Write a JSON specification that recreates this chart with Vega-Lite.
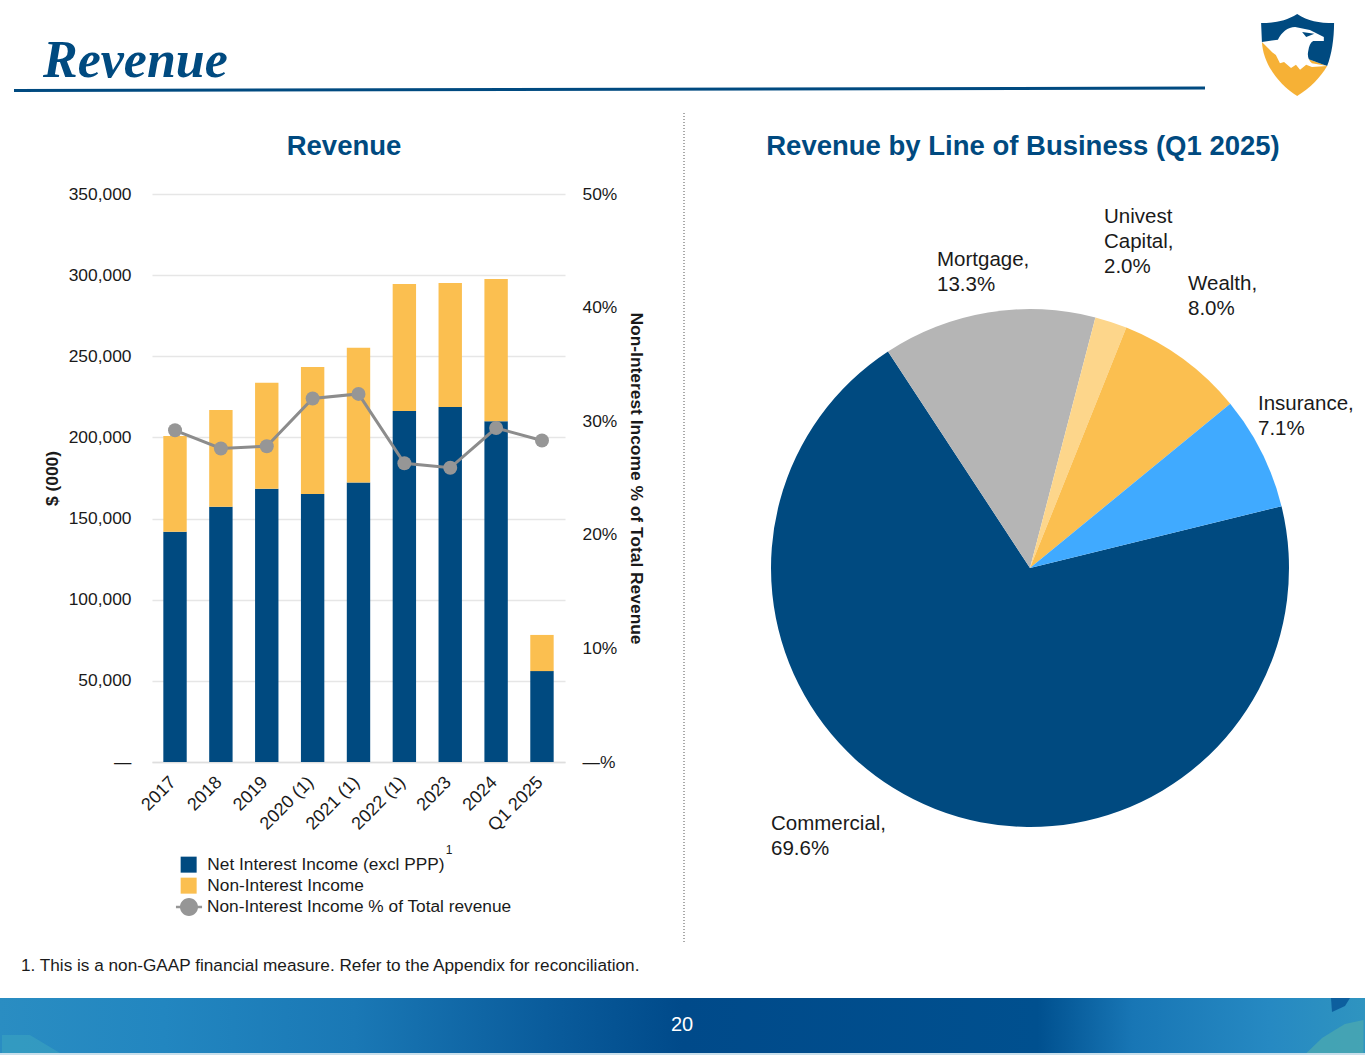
{
"$schema":"https://vega.github.io/schema/vega-lite/v6.json",
"padding":0,
"background":"white",
"spacing":0,
"config":{"view":{"stroke":null},"font":"Liberation Sans","concat":{"spacing":0}},
"resolve":{"scale":{"color":"independent","stroke":"independent"}},
"datasets":{
"bars":[
{"period":"2017","series":"Net Interest Income (excl PPP)","rank":1,"value":141900},{"period":"2018","series":"Net Interest Income (excl PPP)","rank":1,"value":157300},{"period":"2019","series":"Net Interest Income (excl PPP)","rank":1,"value":168400},{"period":"2020 (1)","series":"Net Interest Income (excl PPP)","rank":1,"value":165100},{"period":"2021 (1)","series":"Net Interest Income (excl PPP)","rank":1,"value":172300},{"period":"2022 (1)","series":"Net Interest Income (excl PPP)","rank":1,"value":216300},{"period":"2023","series":"Net Interest Income (excl PPP)","rank":1,"value":218700},{"period":"2024","series":"Net Interest Income (excl PPP)","rank":1,"value":209900},{"period":"Q1 2025","series":"Net Interest Income (excl PPP)","rank":1,"value":56000},
{"period":"2017","series":"Non-Interest Income","rank":2,"value":59000},{"period":"2018","series":"Non-Interest Income","rank":2,"value":59600},{"period":"2019","series":"Non-Interest Income","rank":2,"value":65300},{"period":"2020 (1)","series":"Non-Interest Income","rank":2,"value":78300},{"period":"2021 (1)","series":"Non-Interest Income","rank":2,"value":83000},{"period":"2022 (1)","series":"Non-Interest Income","rank":2,"value":78200},{"period":"2023","series":"Non-Interest Income","rank":2,"value":76400},{"period":"2024","series":"Non-Interest Income","rank":2,"value":87700},{"period":"Q1 2025","series":"Non-Interest Income","rank":2,"value":22300}],
"pct":[
{"period":"2017","series":"Non-Interest Income % of Total revenue","pct":29.2},{"period":"2018","series":"Non-Interest Income % of Total revenue","pct":27.6},{"period":"2019","series":"Non-Interest Income % of Total revenue","pct":27.8},{"period":"2020 (1)","series":"Non-Interest Income % of Total revenue","pct":32.0},{"period":"2021 (1)","series":"Non-Interest Income % of Total revenue","pct":32.4},{"period":"2022 (1)","series":"Non-Interest Income % of Total revenue","pct":26.3},{"period":"2023","series":"Non-Interest Income % of Total revenue","pct":25.9},{"period":"2024","series":"Non-Interest Income % of Total revenue","pct":29.4},{"period":"Q1 2025","series":"Non-Interest Income % of Total revenue","pct":28.3}],
"pie":[
{"name":"Commercial","share":69.6,"ord":1,"label":"Commercial,\n69.6%"},
{"name":"Mortgage","share":13.3,"ord":2,"label":"Mortgage,\n13.3%"},
{"name":"Univest Capital","share":2.0,"ord":3,"label":"Univest\nCapital,\n2.0%"},
{"name":"Wealth","share":8.0,"ord":4,"label":"Wealth,\n8.0%"},
{"name":"Insurance","share":7.1,"ord":5,"label":"Insurance,\n7.1%"}]
},
"vconcat":[
{"width":1365,"height":112,
 "data":{"values":[{"main":"Revenue"}]},
 "layer":[
  {"mark":{"type":"text","align":"left","baseline":"alphabetic","font":"Liberation Serif","fontStyle":"italic","fontWeight":"bold","fontSize":52,"color":"#004a80"},
   "encoding":{"text":{"field":"main"},
    "x":{"datum":43,"type":"quantitative","scale":{"domain":[0,1365],"range":[0,1365],"nice":false,"zero":false},"axis":null},
    "y":{"datum":77,"type":"quantitative","scale":{"domain":[0,112],"range":[0,112],"nice":false,"zero":false},"axis":null}}},
  {"mark":{"type":"rule","color":"#004a80","strokeWidth":3},
   "encoding":{"x":{"datum":14,"type":"quantitative"},"x2":{"datum":1205},"y":{"datum":90.5,"type":"quantitative"},"y2":{"datum":88}}},
  {"mark":{"type":"point","filled":true,"opacity":1,"size":6724,"color":"#f6b136","shape":"M-.88,-.32 C-.85,.2 -.5,.7 -.02,1 C.3,.8 .55,.55 .71,.27 Z"},
   "encoding":{"x":{"datum":1298,"type":"quantitative"},"y":{"datum":55,"type":"quantitative"}}},
  {"mark":{"type":"point","filled":true,"opacity":1,"size":6724,"color":"#004a80","shape":"M-.02,-1 C-.3,-.82 -.6,-.78 -.9,-.78 L-.88,-.32 L.71,.27 C.82,0 .88,-.4 .88,-.78 C.5,-.78 .25,-.82 -.02,-1 Z"},
   "encoding":{"x":{"datum":1298,"type":"quantitative"},"y":{"datum":55,"type":"quantitative"}}},
  {"mark":{"type":"point","filled":true,"opacity":1,"size":6724,"color":"#ffffff","shape":"M-.88,-.32 L-.49,-.37 C-.4,-.55 -.25,-.68 -.07,-.68 L.29,-.61 L.63,-.44 L.63,-.34 L.37,-.34 C.3,-.3 .27,-.22 .25,-.1 C.22,.02 .26,.14 .34,.2 L.71,.27 L.34,.29 L.2,.24 L.05,.36 L-.05,.24 L-.17,.32 L-.34,.17 L-.44,.2 L-.54,0 L-.63,-.07 Z"},
   "encoding":{"x":{"datum":1298,"type":"quantitative"},"y":{"datum":55,"type":"quantitative"}}},
  {"mark":{"type":"point","filled":true,"opacity":1,"size":6724,"color":"#004a80","shape":"M.1,-.56 L.4,-.52 L.2,-.44 Z"},
   "encoding":{"x":{"datum":1298,"type":"quantitative"},"y":{"datum":55,"type":"quantitative"}}}
 ]},
{"spacing":0,"bounds":"flush",
 "resolve":{"scale":{"color":"independent","stroke":"independent"}},
 "hconcat":[
  {"width":152,"height":568,"data":{"values":[{"a":1}]},"mark":{"type":"rect","opacity":0},"encoding":{}},
  {"width":413,"height":568,
   "layer":[
    {"data":{"name":"bars"},"mark":{"type":"bar"},
     "encoding":{
      "x":{"field":"period","type":"nominal","sort":null,"title":null,"scale":{"paddingInner":0.49,"paddingOuter":0.247},
        "axis":{"labelAngle":-45,"labelAlign":"right","labelBaseline":"top","labelFontSize":18,"labelColor":"#1a1a1a","ticks":false,"domainColor":"#dedede","domainWidth":1.5,"labelPadding":11,"labelOffset":-8,"labelOverlap":false}},
      "y":{"field":"value","type":"quantitative","stack":"zero","title":"$ (000)","scale":{"domain":[0,350000],"nice":false},
        "axis":{"orient":"left","values":[0,50000,100000,150000,200000,250000,300000,350000],"labelExpr":"datum.value==0?'—':format(datum.value,',')","labelFontSize":17.4,"labelColor":"#1a1a1a","labelPadding":21,"ticks":false,"domain":false,"grid":true,"gridColor":"#e6e6e6","gridWidth":1.5,"titleFontSize":17.4,"titleFontWeight":"bold","titleColor":"#1a1a1a","titlePadding":7}},
      "color":{"field":"series","type":"nominal","scale":{"domain":["Net Interest Income (excl PPP)","Non-Interest Income"],"range":["#004a80","#fbbf50"]},
        "legend":{"orient":"none","legendX":28,"legendY":662,"title":null,"symbolType":"square","symbolSize":256,"symbolStrokeWidth":0,"labelFontSize":17.3,"labelLimit":400,"labelColor":"#1a1a1a","rowPadding":3,"labelOffset":10,"symbolOpacity":1}},
      "order":{"field":"rank","type":"quantitative"}}},
    {"data":{"name":"pct"},
     "encoding":{"x":{"field":"period","type":"nominal","sort":null},
       "y":{"field":"pct","type":"quantitative","title":"Non-Interest Income % of Total Revenue","scale":{"domain":[0,50],"nice":false},
        "axis":{"orient":"right","values":[0,10,20,30,40,50],"labelExpr":"datum.value==0?'—%':datum.value+'%'","labelFontSize":17.4,"labelColor":"#1a1a1a","labelPadding":17,"ticks":false,"domain":false,"grid":false,"titleAngle":90,"titleFontSize":17.4,"titleFontWeight":"bold","titleColor":"#1a1a1a","titlePadding":10}}},
     "layer":[
      {"mark":{"type":"line","strokeWidth":3},
       "encoding":{"stroke":{"field":"series","type":"nominal","scale":{"range":["#8c8c8c"]},
        "legend":{"orient":"none","legendX":28,"legendY":704,"title":null,"symbolType":"M-1.45,-.14H1.45V.14H-1.45Z M1,0A1,1 0 1 1 -1,0A1,1 0 1 1 1,0Z","symbolSize":324,"symbolFillColor":"#969696","symbolStrokeWidth":0,"labelFontSize":17.3,"labelLimit":400,"labelColor":"#1a1a1a","labelOffset":9}}}},
      {"mark":{"type":"point","filled":true,"opacity":1,"size":195,"color":"#969696"}}
     ]}
   ],
   "resolve":{"scale":{"y":"independent"},"axis":{"y":"independent"}}},
  {"width":206,"height":568,"data":{"values":[{"left":"Revenue","right":"Revenue by Line of Business (Q1 2025)","sup":"1"}]},
   "layer":[
    {"mark":{"type":"rule","color":"#555555","strokeWidth":1,"strokeDash":[1,2],"clip":false},
     "encoding":{"x":{"datum":684,"type":"quantitative","scale":{"domain":[565,771],"range":[0,206],"nice":false,"zero":false},"axis":null},
      "y":{"datum":113,"type":"quantitative","scale":{"domain":[113,943],"range":[-81,749],"zero":false,"nice":false},"axis":null},"y2":{"datum":943}}},
    {"mark":{"type":"text","align":"center","baseline":"alphabetic","fontWeight":"bold","fontSize":27.5,"color":"#004a80"},
     "encoding":{"text":{"field":"left"},"x":{"datum":344,"type":"quantitative"},"y":{"datum":154.5,"type":"quantitative"}}},
    {"mark":{"type":"text","align":"center","baseline":"alphabetic","fontWeight":"bold","fontSize":27.5,"color":"#004a80"},
     "encoding":{"text":{"field":"right"},"x":{"datum":1023,"type":"quantitative"},"y":{"datum":154.5,"type":"quantitative"}}},
    {"mark":{"type":"text","align":"center","baseline":"alphabetic","fontSize":12,"color":"#1a1a1a"},
     "encoding":{"text":{"field":"sup"},"x":{"datum":449,"type":"quantitative"},"y":{"datum":854,"type":"quantitative"}}}
   ]},
  {"spacing":0,"bounds":"flush",
   "resolve":{"scale":{"color":"independent"}},
   "vconcat":[
   {"width":518,"height":115,"data":{"values":[{"a":1}]},"mark":{"type":"rect","opacity":0},"encoding":{}},
   {"width":518,"height":518,"data":{"name":"pie"},
    "layer":[
     {"mark":{"type":"arc","outerRadius":259,"innerRadius":0},
      "encoding":{"theta":{"field":"share","type":"quantitative","stack":true,"scale":{"range":[1.33,7.613]}},
       "order":{"field":"ord","type":"quantitative"},
       "color":{"field":"name","type":"nominal","legend":null,"scale":{"domain":["Commercial","Mortgage","Univest Capital","Wealth","Insurance"],"range":["#004a80","#b5b5b5","#fdd68b","#fbbf50","#40aaff"]}}}},
     {"transform":[{"filter":"datum.name=='Commercial'"}],
      "mark":{"type":"text","align":"left","baseline":"top","lineBreak":"\n","fontSize":20.5,"lineHeight":25,"color":"#1a1a1a"},
      "encoding":{"text":{"field":"label"},"x":{"datum":771,"type":"quantitative","scale":{"domain":[771,1289],"range":[0,518],"nice":false,"zero":false},"axis":null},"y":{"datum":813,"type":"quantitative","scale":{"domain":[308,826],"range":[0,518],"zero":false,"nice":false},"axis":null}}},
     {"transform":[{"filter":"datum.name=='Mortgage'"}],
      "mark":{"type":"text","align":"left","baseline":"top","lineBreak":"\n","fontSize":20.5,"lineHeight":25,"color":"#1a1a1a"},
      "encoding":{"text":{"field":"label"},"x":{"datum":937,"type":"quantitative"},"y":{"datum":249,"type":"quantitative"}}},
     {"transform":[{"filter":"datum.name=='Univest Capital'"}],
      "mark":{"type":"text","align":"left","baseline":"top","lineBreak":"\n","fontSize":20.5,"lineHeight":25,"color":"#1a1a1a"},
      "encoding":{"text":{"field":"label"},"x":{"datum":1104,"type":"quantitative"},"y":{"datum":206,"type":"quantitative"}}},
     {"transform":[{"filter":"datum.name=='Wealth'"}],
      "mark":{"type":"text","align":"left","baseline":"top","lineBreak":"\n","fontSize":20.5,"lineHeight":25,"color":"#1a1a1a"},
      "encoding":{"text":{"field":"label"},"x":{"datum":1188,"type":"quantitative"},"y":{"datum":273,"type":"quantitative"}}},
     {"transform":[{"filter":"datum.name=='Insurance'"}],
      "mark":{"type":"text","align":"left","baseline":"top","lineBreak":"\n","fontSize":20.5,"lineHeight":25,"color":"#1a1a1a"},
      "encoding":{"text":{"field":"label"},"x":{"datum":1258,"type":"quantitative"},"y":{"datum":393,"type":"quantitative"}}}
    ]}
  ]}
 ]},
{"width":1365,"height":111,
 "data":{"values":[{"note":"1. This is a non-GAAP financial measure. Refer to the Appendix for reconciliation.","page":"20"}]},
 "layer":[
  {"mark":{"type":"rect","color":{"gradient":"linear","x1":0,"x2":1,"y1":0,"y2":0,"stops":[{"offset":0,"color":"#2a8dc2"},{"offset":0.12,"color":"#2286c0"},{"offset":0.26,"color":"#1a78b5"},{"offset":0.4,"color":"#0a5c9c"},{"offset":0.5,"color":"#004a8a"},{"offset":0.76,"color":"#00508f"},{"offset":0.83,"color":"#1876b5"},{"offset":0.93,"color":"#2689c2"},{"offset":1,"color":"#2f94c0"}]}},
   "encoding":{"x":{"datum":0,"type":"quantitative","scale":{"domain":[0,1365],"range":[0,1365],"nice":false,"zero":false},"axis":null},"x2":{"datum":1365},
    "y":{"datum":998,"type":"quantitative","scale":{"domain":[944,1055],"range":[0,111],"zero":false,"nice":false},"axis":null},"y2":{"datum":1053}}},
  {"mark":{"type":"rect","color":"#c9dfeb"},
   "encoding":{"x":{"datum":0,"type":"quantitative"},"x2":{"datum":1365},"y":{"datum":1053,"type":"quantitative"},"y2":{"datum":1055}}},
  {"mark":{"type":"point","filled":true,"opacity":0.8,"strokeWidth":0,"size":3600,"color":"#4aa8b0","shape":"M-.95,.43 L-.43,-.07 L0,-.33 L.33,-.53 L.95,-.67 L.95,.43 Z"},
   "encoding":{"x":{"datum":1335,"type":"quantitative"},"y":{"datum":1040,"type":"quantitative"}}},
  {"mark":{"type":"point","filled":true,"opacity":0.9,"strokeWidth":0,"size":1600,"color":"#0a5a9a","shape":"M-.7,-.35 L.25,-.35 L0,.05 L-.65,.35 Z"},
   "encoding":{"x":{"datum":1345,"type":"quantitative"},"y":{"datum":1005,"type":"quantitative"}}},
  {"mark":{"type":"point","filled":true,"opacity":0.6,"strokeWidth":0,"size":3600,"color":"#3aa3c0","shape":"M-.6,-.27 L.33,-.27 L1.33,.33 L-.6,.33 Z"},
   "encoding":{"x":{"datum":20,"type":"quantitative"},"y":{"datum":1043,"type":"quantitative"}}},
  {"mark":{"type":"text","align":"left","baseline":"alphabetic","fontSize":17.2,"color":"#1a1a1a"},
   "encoding":{"text":{"field":"note"},"x":{"datum":21,"type":"quantitative"},"y":{"datum":971,"type":"quantitative"}}},
  {"mark":{"type":"text","align":"center","baseline":"alphabetic","fontSize":20,"color":"#ffffff"},
   "encoding":{"text":{"field":"page"},"x":{"datum":682,"type":"quantitative"},"y":{"datum":1031,"type":"quantitative"}}}
 ]}
]
}
